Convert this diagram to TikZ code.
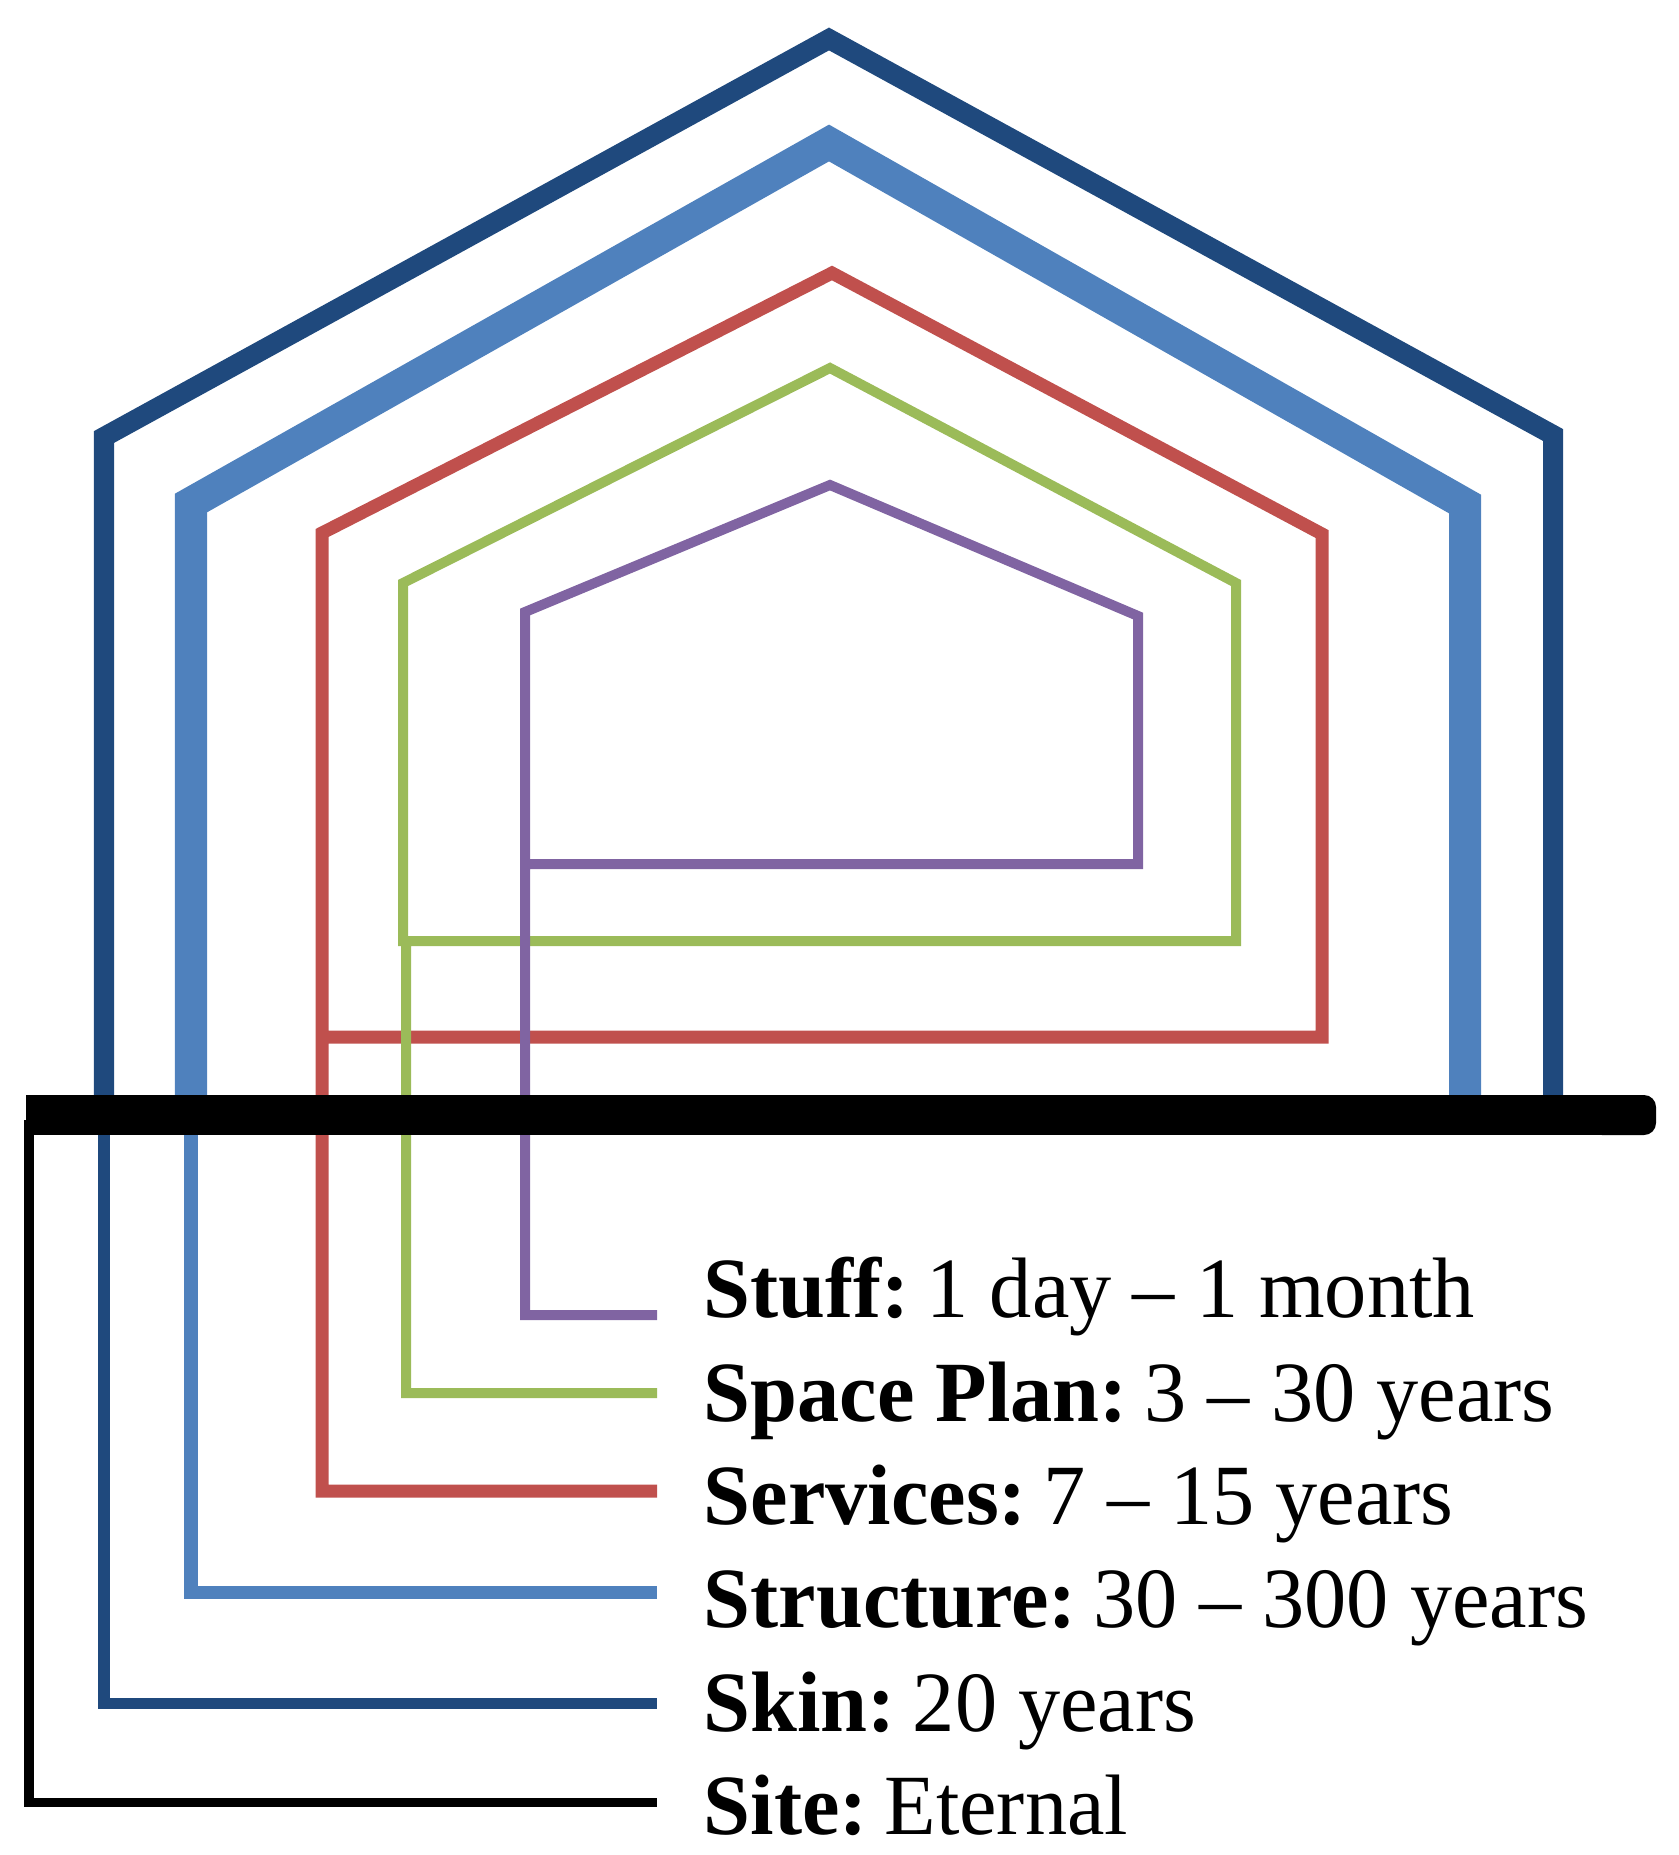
\documentclass[tikz,border=0pt]{standalone}
\usepackage{fontspec}
\setmainfont{Liberation Serif}
\usepackage{tikz}
\definecolor{skin}{HTML}{1F497D}
\definecolor{structure}{HTML}{4F81BD}
\definecolor{services}{HTML}{C0504D}
\definecolor{spaceplan}{HTML}{9BBB59}
\definecolor{stuff}{HTML}{8064A2}
\newcommand{\lbltext}[2]{\scalebox{0.983}[1]{\textbf{#1:}\hspace{0.2em}#2}}
\tikzset{lbl/.style={anchor=base west, inner sep=0pt, font=\fontsize{24.4}{29}\selectfont}}

\begin{document}
\begin{tikzpicture}[x=0.01cm, y=-0.01cm]
\useasboundingbox (0,0) rectangle (1678,1855);
\draw[skin, line width=0.2cm] (104,1100) -- (104,437) -- (829,39) -- (1553,435) -- (1553,1100);
\draw[skin, line width=0.11cm] (104,1100) -- (104,1703) -- (657,1703);
\draw[structure, line width=0.32cm] (191,1100) -- (191,503) -- (829,143) -- (1465,504) -- (1465,1100);
\draw[structure, line width=0.13cm] (191,1100) -- (191,1592) -- (657,1592);
\draw[services, line width=0.13cm] (657,1491) -- (322,1491) -- (322,533) -- (832,273) -- (1322,534) -- (1322,1037) -- (322,1037);
\draw[spaceplan, line width=0.1cm] (657,1393) -- (406,1393) -- (406,941) -- (403,941) -- (403,583) -- (830,368) -- (1236,583) -- (1236,941) -- (406,941);
\draw[stuff, line width=0.1cm] (657,1315) -- (525,1315) -- (525,612) -- (830,485) -- (1138,616) -- (1138,864) -- (525,864);
\draw[black, line width=0.09cm] (29,1120) -- (29,1802) -- (657,1802);
\draw[black, line width=0.4cm] (26,1115) -- (1630,1115);
\fill[black, rounded corners=0.12cm] (1590,1095) rectangle (1656,1135);
\node[lbl] (stuffL) at (703,1317) {\lbltext{Stuff}{1 day -- 1 month}};
\node[lbl] (spaceplanL) at (703,1421) {\lbltext{Space Plan}{3 -- 30 years}};
\node[lbl] (servicesL) at (703,1524) {\lbltext{Services}{7 -- 15 years}};
\node[lbl] (structureL) at (703,1627) {\lbltext{Structure}{30 -- 300 years}};
\node[lbl] (skinL) at (703,1731) {\lbltext{Skin}{20 years}};
\node[lbl] (siteL) at (703,1834) {\lbltext{Site}{Eternal}};
\end{tikzpicture}
\end{document}
